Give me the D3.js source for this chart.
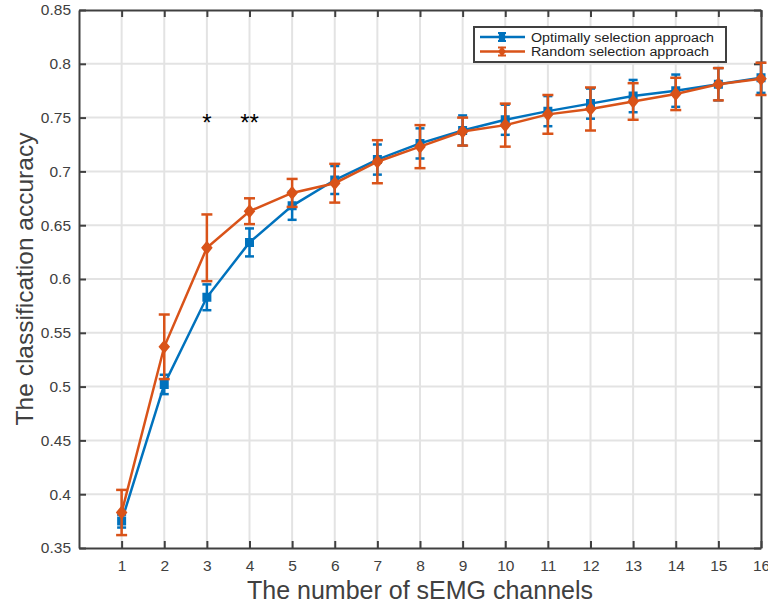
<!DOCTYPE html>
<html>
<head>
<meta charset="utf-8">
<script src="https://cdn.jsdelivr.net/npm/d3@7"></script>
<style>
  body { margin: 0; background: #fff; }
  svg { font-family: "Liberation Sans", Arial, sans-serif; }
</style>
</head>
<body>
<div id="chart"></div>
<script>
var channels = [1, 2, 3, 4, 5, 6, 7, 8, 9, 10, 11, 12, 13, 14, 15, 16];
var optimalMean = [0.375, 0.502, 0.583, 0.634, 0.668, 0.692, 0.711, 0.726, 0.738, 0.748, 0.756, 0.763, 0.770, 0.775, 0.781, 0.787];
var optimalErr  = [0.006, 0.009, 0.012, 0.013, 0.013, 0.013, 0.014, 0.014, 0.014, 0.014, 0.014, 0.014, 0.015, 0.015, 0.015, 0.014];
var randomMean  = [0.383, 0.537, 0.629, 0.663, 0.680, 0.689, 0.709, 0.723, 0.737, 0.743, 0.753, 0.758, 0.765, 0.772, 0.781, 0.786];
var randomErr   = [0.021, 0.030, 0.031, 0.012, 0.013, 0.018, 0.020, 0.020, 0.013, 0.020, 0.018, 0.020, 0.017, 0.015, 0.015, 0.015];
var yTicks = [0.35, 0.4, 0.45, 0.5, 0.55, 0.6, 0.65, 0.7, 0.75, 0.8, 0.85];
var yTickLabels = ["0.35", "0.4", "0.45", "0.5", "0.55", "0.6", "0.65", "0.7", "0.75", "0.8", "0.85"];
var stars = [{ x: 3, y: 0.748, text: "*" }, { x: 4, y: 0.748, text: "**" }];
var legendNames = ["Optimally selection approach", "Random selection approach"];

function init() {
    var w = 768, h = 607;
    var left = 79, right = 761, top = 10, bottom = 548;
    var blue = "#0072BD", orange = "#D95319", axisCol = "#404040";

    var svg = d3.select("#chart").append("svg")
        .attr("width", w).attr("height", h);

    var x = d3.scaleLinear().domain([0, 16]).range([left, right]);
    var y = d3.scaleLinear().domain([0.35, 0.85]).range([bottom, top]);

    // grid
    svg.append("g").selectAll("line").data(channels).enter().append("line")
        .attr("x1", function(d) { return x(d); }).attr("x2", function(d) { return x(d); })
        .attr("y1", top).attr("y2", bottom)
        .attr("stroke", "#e3e3e3").attr("stroke-width", 2);
    svg.append("g").selectAll("line").data(yTicks.slice(1, -1)).enter().append("line")
        .attr("x1", left).attr("x2", right)
        .attr("y1", function(d) { return y(d); }).attr("y2", function(d) { return y(d); })
        .attr("stroke", "#e3e3e3").attr("stroke-width", 2);

    // axes (box with inward ticks)
    function styleAxis(g) {
        g.selectAll("path").attr("stroke", axisCol).attr("stroke-width", 2);
        g.selectAll(".tick line").attr("stroke", axisCol).attr("stroke-width", 2);
        g.selectAll("text").attr("fill", "#404040").attr("font-size", 15.5);
    }
    var xb = svg.append("g").attr("transform", "translate(0," + bottom + ")")
        .call(d3.axisBottom(x).tickValues(channels).tickFormat(d3.format("d"))
            .tickSizeInner(-7).tickSizeOuter(0).tickPadding(12));
    styleAxis(xb);
    var xt = svg.append("g").attr("transform", "translate(0," + top + ")")
        .call(d3.axisTop(x).tickValues(channels).tickFormat("").tickSizeInner(-7).tickSizeOuter(0));
    styleAxis(xt);
    var yl = svg.append("g").attr("transform", "translate(" + left + ",0)")
        .call(d3.axisLeft(y).tickValues(yTicks).tickFormat(function(d, i) { return yTickLabels[i]; })
            .tickSizeInner(-7).tickSizeOuter(0).tickPadding(8));
    styleAxis(yl);
    var yr = svg.append("g").attr("transform", "translate(" + right + ",0)")
        .call(d3.axisRight(y).tickValues(yTicks).tickFormat("").tickSizeInner(-7).tickSizeOuter(0));
    styleAxis(yr);

    // series
    function series(mean, err, color, marker, capW) {
        var g = svg.append("g");
        var line = d3.line().x(function(d, i) { return x(channels[i]); }).y(function(d) { return y(d); });
        g.append("path").datum(mean).attr("d", line)
            .attr("fill", "none").attr("stroke", color).attr("stroke-width", 2.5);
        var eb = g.selectAll(".eb").data(mean).enter().append("g");
        eb.append("line")
            .attr("x1", function(d, i) { return x(channels[i]); }).attr("x2", function(d, i) { return x(channels[i]); })
            .attr("y1", function(d, i) { return y(d - err[i]); }).attr("y2", function(d, i) { return y(d + err[i]); })
            .attr("stroke", color).attr("stroke-width", 2.5);
        [-1, 1].forEach(function(s) {
            eb.append("line")
                .attr("x1", function(d, i) { return x(channels[i]) - capW / 2; })
                .attr("x2", function(d, i) { return x(channels[i]) + capW / 2; })
                .attr("y1", function(d, i) { return y(d + s * err[i]); })
                .attr("y2", function(d, i) { return y(d + s * err[i]); })
                .attr("stroke", color).attr("stroke-width", 2.5);
        });
        g.selectAll(".mk").data(mean).enter().append("path")
            .attr("transform", function(d, i) { return "translate(" + x(channels[i]) + "," + y(d) + ")"; })
            .attr("d", marker)
            .attr("fill", color).attr("stroke", color).attr("stroke-width", 2);
    }
    var square = "M-3.5,-3.5H3.5V3.5H-3.5Z";
    var diamond = "M0,-5.5L4.5,0L0,5.5L-4.5,0Z";
    series(optimalMean, optimalErr, blue, square, 9);
    series(randomMean, randomErr, orange, diamond, 11);

    // significance stars
    svg.selectAll(".star").data(stars).enter().append("text")
        .attr("x", function(d) { return x(d.x); }).attr("y", function(d) { return y(d.y) + 11; })
        .attr("text-anchor", "middle").attr("font-size", 24).attr("fill", "#000")
        .text(function(d) { return d.text; });

    // legend
    var lg = svg.append("g");
    lg.append("rect").attr("x", 474).attr("y", 27).attr("width", 252).attr("height", 35)
        .attr("fill", "#fff").attr("stroke", axisCol).attr("stroke-width", 2);
    var lc = [blue, orange], lm = [square, diamond];
    legendNames.forEach(function(name, i) {
        var ly = 37 + i * 14.5;
        lg.append("line").attr("x1", 480).attr("x2", 525).attr("y1", ly).attr("y2", ly)
            .attr("stroke", lc[i]).attr("stroke-width", 2.5);
        lg.append("line").attr("x1", 502).attr("x2", 502).attr("y1", ly - 4).attr("y2", ly + 4)
            .attr("stroke", lc[i]).attr("stroke-width", 2.5);
        lg.append("line").attr("x1", 498).attr("x2", 506).attr("y1", ly - 4).attr("y2", ly - 4)
            .attr("stroke", lc[i]).attr("stroke-width", 2);
        lg.append("line").attr("x1", 498).attr("x2", 506).attr("y1", ly + 4).attr("y2", ly + 4)
            .attr("stroke", lc[i]).attr("stroke-width", 2);
        lg.append("path").attr("transform", "translate(502," + ly + ") scale(0.7)").attr("d", lm[i])
            .attr("fill", lc[i]).attr("stroke", lc[i]).attr("stroke-width", 2);
        lg.append("text").attr("x", 531).attr("y", ly + 4.5).attr("font-size", 12.5).attr("fill", "#222")
            .attr("textLength", 183).attr("lengthAdjust", "spacingAndGlyphs")
            .text(name).attr("textLength", i === 0 ? 183 : 178);
    });

    // axis labels
    svg.append("text").attr("x", (left + right) / 2).attr("y", 599)
        .attr("text-anchor", "middle").attr("font-size", 25).attr("fill", "#404040")
        .text("The number of sEMG channels");
    svg.append("text").attr("transform", "translate(33," + (top + bottom) / 2 + ") rotate(-90)")
        .attr("text-anchor", "middle").attr("font-size", 24.5).attr("fill", "#404040")
        .text("The classification accuracy");
}

window.onload = init;
</script>
</body>
</html>
